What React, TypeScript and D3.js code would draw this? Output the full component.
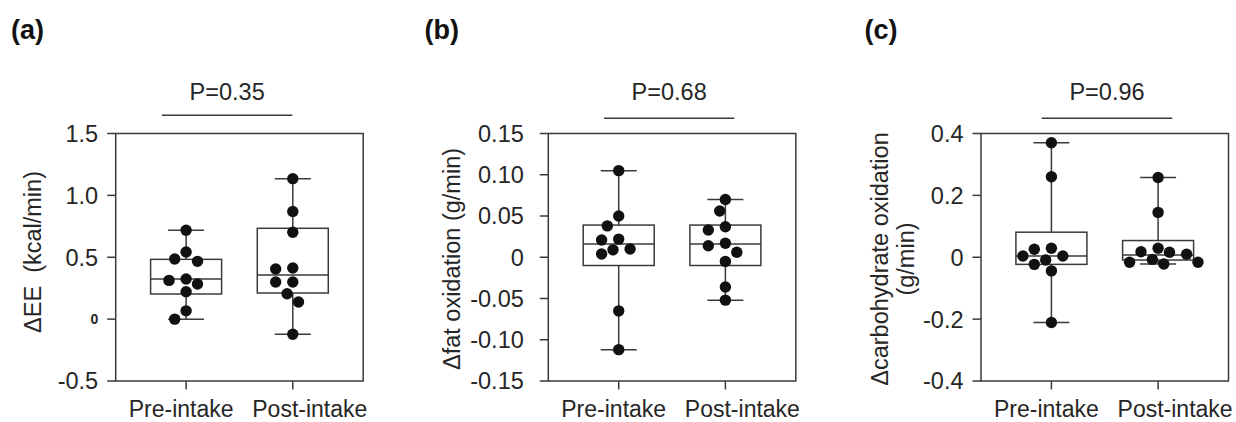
import React from "react";
import * as d3 from "d3";

// groups and tick labels
const groups = ["Pre-intake", "Post-intake"];
const panelLabels = ["(a)", "(b)", "(c)"];
const pLabels = ["P=0.35", "P=0.68", "P=0.96"];

// (a) ΔEE, kcal/min
const eePre = [0.718, 0.543, 0.486, 0.467, 0.324, 0.313, 0.284, 0.221, 0.067, 0.0];
const eePost = [1.135, 0.87, 0.702, 0.413, 0.405, 0.3, 0.3, 0.205, 0.138, -0.122];
const eeQ1 = [0.203, 0.211];
const eeMedian = [0.324, 0.357];
const eeQ3 = [0.483, 0.734];
const eeTicks = [-0.5, 0, 0.5, 1.0, 1.5];
const eeTickLabels = ["-0.5", "0", "0.5", "1.0", "1.5"];

// (b) Δfat oxidation, g/min
const fatPre = [0.105, 0.05, 0.038, 0.022, 0.021, 0.01, 0.009, 0.004, -0.065, -0.112];
const fatPost = [0.07, 0.056, 0.037, 0.033, 0.017, 0.014, 0.006, -0.005, -0.036, -0.052];
const fatQ1 = [-0.01, -0.01];
const fatMedian = [0.016, 0.016];
const fatQ3 = [0.039, 0.039];
const fatTicks = [-0.15, -0.1, -0.05, 0, 0.05, 0.1, 0.15];
const fatTickLabels = ["-0.15", "-0.10", "-0.05", "0", "0.05", "0.10", "0.15"];

// (c) Δcarbohydrate oxidation, g/min
const choPre = [0.37, 0.26, 0.029, 0.026, 0.004, 0.004, -0.009, -0.023, -0.044, -0.211];
const choPost = [0.258, 0.145, 0.029, 0.018, 0.016, 0.01, -0.007, -0.016, -0.016, -0.022];
const choQ1 = [-0.023, -0.009];
const choMedian = [0.004, 0.007];
const choQ3 = [0.081, 0.054];
const choTicks = [-0.4, -0.2, 0, 0.2, 0.4];
const choTickLabels = ["-0.4", "-0.2", "0", "0.2", "0.4"];

const FONT = "'Liberation Sans', Arial, Helvetica, sans-serif";
const INK = "#262626";
const LINE = "#3a3a3a";
const R = 5.7;

// simple greedy beeswarm: returns x offsets in px
function swarm(values: number[], y: (v: number) => number, diameter: number, step: number) {
  const order = d3.range(values.length).sort((a, b) => values[b] - values[a]);
  const placed: { x: number; y: number }[] = [];
  const offsets = values.map(() => 0);
  for (const i of order) {
    const py = y(values[i]);
    for (let k = 0; k < 60; k++) {
      const dx = k === 0 ? 0 : (k % 2 ? -1 : 1) * Math.ceil(k / 2) * step;
      if (placed.every((p) => Math.hypot(p.x - dx, p.y - py) >= diameter)) {
        offsets[i] = dx;
        placed.push({ x: dx, y: py });
        break;
      }
    }
  }
  return offsets;
}

type PanelProps = {
  label: string;
  pLabel: string;
  title: string[];
  series: number[][];
  q1: number[];
  median: number[];
  q3: number[];
  domain: [number, number];
  ticks: number[];
  tickLabels: string[];
  left: number;
  labelX: number;
  tickPad: number;
  titleX: number[];
  titleY: number;
  pLine: [number, number];
  pLineY: number;
  smallZero?: boolean;
};

function Panel(p: PanelProps) {
  const top = 133.5;
  const bottom = 381;
  const width = 247.5;
  const right = p.left + width;
  const x = d3.scalePoint<string>().domain(groups).range([p.left, right]).padding(0.66);
  const y = d3.scaleLinear().domain(p.domain).range([bottom, top]);
  const boxW = 71;
  const capW = 36;
  const labelShift = [-5, 17];
  const lineMid = p.left + (p.pLine[0] + p.pLine[1]) / 2;

  return (
    <g>
      <text x={p.labelX} y={39} fontFamily={FONT} fontWeight="bold" fontSize={27} fill="#111">
        {p.label}
      </text>

      {/* p-value bracket */}
      <text x={lineMid} y={100} textAnchor="middle" fontFamily={FONT} fontSize={23.5} fill={INK}>
        {p.pLabel}
      </text>
      <line x1={p.left + p.pLine[0]} x2={p.left + p.pLine[1]} y1={p.pLineY} y2={p.pLineY} stroke={LINE} strokeWidth={1.4} />

      {/* frame */}
      <rect x={p.left} y={top} width={width} height={bottom - top} fill="none" stroke={LINE} strokeWidth={1.5} />

      {/* y axis */}
      {p.ticks.map((t, i) => (
        <g key={"yt" + i}>
          <line x1={p.left - 8.5} x2={p.left} y1={y(t)} y2={y(t)} stroke={LINE} strokeWidth={1.5} />
          <text
            x={p.left - 8.5 - p.tickPad}
            y={y(t)}
            dy="0.36em"
            textAnchor="end"
            fontFamily={FONT}
            fontSize={p.smallZero && t === 0 ? 14 : 23.5}
            fontWeight={p.smallZero && t === 0 ? "bold" : "normal"}
            fill={INK}
          >
            {p.tickLabels[i]}
          </text>
        </g>
      ))}

      {/* x axis */}
      {groups.map((g, i) => (
        <g key={"xt" + g}>
          <line x1={x(g)} x2={x(g)} y1={bottom} y2={bottom + 8.5} stroke={LINE} strokeWidth={1.5} />
          <text x={(x(g) as number) + labelShift[i]} y={417} textAnchor="middle" fontFamily={FONT} fontSize={23} fill={INK}>
            {g}
          </text>
        </g>
      ))}

      {/* y title */}
      {p.title.map((t, i) => (
        <text
          key={"tt" + i}
          transform={`translate(${p.titleX[i]},${p.titleY}) rotate(-90)`}
          textAnchor="middle"
          dy="0.35em"
          fontFamily={FONT}
          fontSize={23.5}
          fill={INK}
          style={{ whiteSpace: "pre" }}
        >
          {t}
        </text>
      ))}

      {/* boxes, whiskers, dots */}
      {groups.map((g, i) => {
        const cx = x(g) as number;
        const vals = p.series[i];
        const [lo, hi] = d3.extent(vals) as [number, number];
        const offs = swarm(vals, y, 12, 5.7);
        return (
          <g key={"b" + g}>
            <line x1={cx} x2={cx} y1={y(hi)} y2={y(p.q3[i])} stroke={LINE} strokeWidth={1.5} />
            <line x1={cx} x2={cx} y1={y(p.q1[i])} y2={y(lo)} stroke={LINE} strokeWidth={1.5} />
            <line x1={cx - capW / 2} x2={cx + capW / 2} y1={y(hi)} y2={y(hi)} stroke={LINE} strokeWidth={1.5} />
            <line x1={cx - capW / 2} x2={cx + capW / 2} y1={y(lo)} y2={y(lo)} stroke={LINE} strokeWidth={1.5} />
            <rect
              x={cx - boxW / 2}
              y={y(p.q3[i])}
              width={boxW}
              height={y(p.q1[i]) - y(p.q3[i])}
              fill="white"
              stroke={LINE}
              strokeWidth={1.5}
            />
            <line x1={cx - boxW / 2} x2={cx + boxW / 2} y1={y(p.median[i])} y2={y(p.median[i])} stroke={LINE} strokeWidth={1.5} />
            {vals.map((v, j) => (
              <circle key={j} cx={cx + offs[j]} cy={y(v)} r={R} fill="#111" />
            ))}
          </g>
        );
      })}
    </g>
  );
}

export default function App() {
  return (
    <svg width={1236} height={422} style={{ position: "absolute", left: 0, top: 0, background: "white" }}>
      <rect width={1236} height={422} fill="white" />
      <Panel
        label={panelLabels[0]}
        pLabel={pLabels[0]}
        title={["ΔEE  (kcal/min)"]}
        series={[eePre, eePost]}
        q1={eeQ1}
        median={eeMedian}
        q3={eeQ3}
        domain={[-0.5, 1.5]}
        ticks={eeTicks}
        tickLabels={eeTickLabels}
        left={115.7}
        labelX={11}
        tickPad={9}
        titleX={[32.5]}
        titleY={252}
        pLine={[46.3, 176.6]}
        pLineY={115.3}
        smallZero
      />
      <Panel
        label={panelLabels[1]}
        pLabel={pLabels[1]}
        title={["Δfat oxidation (g/min)"]}
        series={[fatPre, fatPost]}
        q1={fatQ1}
        median={fatMedian}
        q3={fatQ3}
        domain={[-0.15, 0.15]}
        ticks={fatTicks}
        tickLabels={fatTickLabels}
        left={548.3}
        labelX={424.5}
        tickPad={16}
        titleX={[451.7]}
        titleY={259}
        pLine={[55.7, 186]}
        pLineY={118.3}
      />
      <Panel
        label={panelLabels[2]}
        pLabel={pLabels[2]}
        title={["Δcarbohydrate oxidation", "(g/min)"]}
        series={[choPre, choPost]}
        q1={choQ1}
        median={choMedian}
        q3={choQ3}
        domain={[-0.4, 0.4]}
        ticks={choTicks}
        tickLabels={choTickLabels}
        left={981}
        labelX={864.5}
        tickPad={9}
        titleX={[880, 906]}
        titleY={259}
        pLine={[60.7, 191.3]}
        pLineY={118.3}
      />
    </svg>
  );
}
